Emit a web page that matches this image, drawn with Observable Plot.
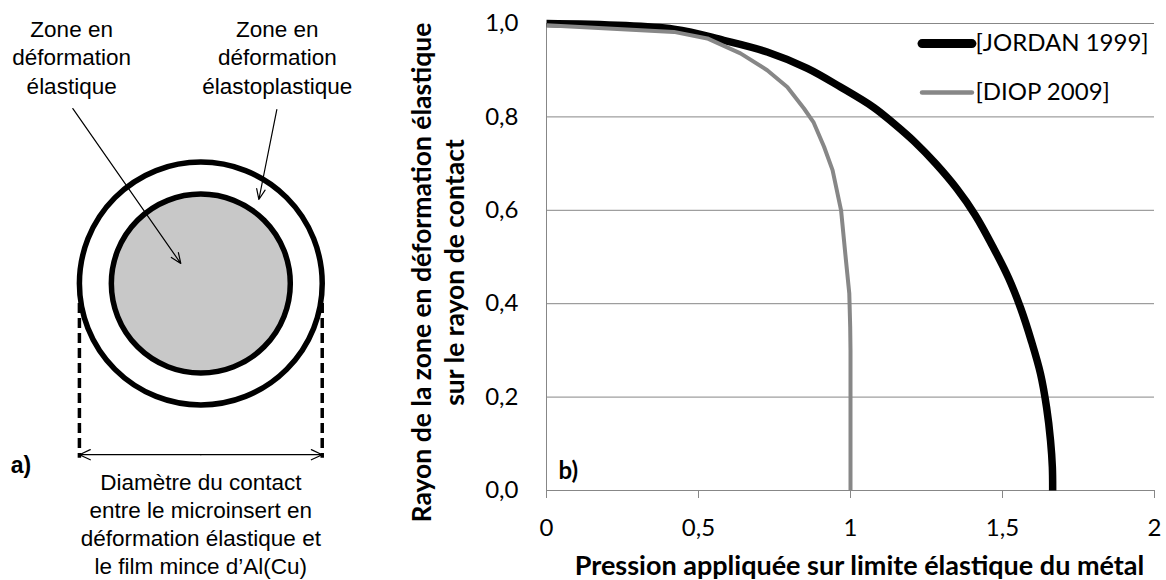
<!DOCTYPE html>
<html><head><meta charset="utf-8">
<script src="https://cdn.jsdelivr.net/npm/d3@7"></script>
<script src="https://cdn.jsdelivr.net/npm/@observablehq/plot@0.6"></script>
<style>
html,body{margin:0;padding:0;background:#fff;}
#wrap{display:flex;width:1166px;height:580px;overflow:hidden;}
#wrap svg{display:block;flex:none;}
</style></head><body><div id="wrap"></div>
<script>
// ---------- panel b) data ----------
const seriesNames = ["[JORDAN 1999]", "[DIOP 2009]"];
const jordanX = [0, 0.419, 0.583, 0.726, 0.858, 0.967, 1.077, 1.142, 1.21, 1.28, 1.35, 1.41, 1.47, 1.52, 1.56, 1.595, 1.625, 1.645, 1.658, 1.664, 1.665];
const jordanY = [1.0, 0.988, 0.964, 0.939, 0.904, 0.864, 0.82, 0.786, 0.747, 0.7, 0.646, 0.59, 0.52, 0.455, 0.39, 0.32, 0.25, 0.178, 0.107, 0.05, 0.0];
const diopX = [0, 0.419, 0.529, 0.638, 0.726, 0.792, 0.847, 0.878, 0.913, 0.941, 0.969, 0.985, 0.996, 0.999, 1.0, 1.0];
const diopY = [0.996, 0.982, 0.968, 0.936, 0.9, 0.864, 0.818, 0.789, 0.736, 0.686, 0.6, 0.493, 0.422, 0.35, 0.3, 0.0];
const xTicks = [0, 0.5, 1, 1.5, 2];
const yTicks = [0, 0.2, 0.4, 0.6, 0.8, 1.0];
const xTitle = "Pression appliquée sur limite élastique du métal";
const yTitleLines = ["Rayon de la zone en déformation élastique", "sur le rayon de contact"];
const panelB = "b)";

// ---------- panel a) schematic (units of outer radius) ----------
const ringNames = ["zone élastoplastique", "zone élastique"];
const ringRadii = [1.0, 0.737];
const topLabels = ["Zone en\ndéformation\nélastique", "Zone en\ndéformation\nélastoplastique"];
const bottomLabel = "Diamètre du contact\nentre le microinsert en\ndéformation élastique et\nle film mince d’Al(Cu)";
const panelA = "a)";

// ---------- styles ----------
const gray = "#878787";
const seriesColors = ["#000000", gray];
const seriesWidths = [7.5, 4];
const fmtX = d => String(d).replace(".", ",");
const fmtY = d => d3.format(".1f")(d).replace(".", ",");

const rows = [
  jordanX.map((x, i) => ({series: seriesNames[0], x, y: jordanY[i]})),
  diopX.map((x, i) => ({series: seriesNames[1], x, y: diopY[i]}))
];

// legend layout (data units of panel b)
const legX1 = 1.237, legX2 = 1.401, legTx = 1.411, legY0 = 0.957, legStep = 0.105;
const legend = seriesNames.map((name, i) => ({name, i, y: legY0 - i * legStep}));

// ---------- panel a plot ----------
const ax0 = -1.65, ax1 = 1.48, ay0 = -2.446, ay1 = 2.331;
const pxPerUnit = 380 / (ax1 - ax0);
const rings = ringNames.map((name, i) => ({name, r: ringRadii[i]}));
const armY = -1.41;

const chartA = Plot.plot({
  width: 380, height: 580, margin: 0,
  x: {domain: [ax0, ax1], axis: null},
  y: {domain: [ay0, ay1], axis: null},
  r: {type: "linear", domain: [0, 1], range: [0, pxPerUnit]},
  style: {fontFamily: "'Liberation Sans', Arial, sans-serif", fontSize: "22px", color: "#000", background: "#fff"},
  marks: [
    Plot.dot([rings[0]], {x: () => 0, y: () => 0, r: "r", fill: "#ffffff", stroke: "#000", strokeWidth: 5.5}),
    Plot.dot([rings[1]], {x: () => 0, y: () => 0, r: "r", fill: "#c8c8c8", stroke: "#000", strokeWidth: 5.5}),
    Plot.ruleX([-ringRadii[0], ringRadii[0]], {x: d => d, y1: -0.165, y2: -1.44, stroke: "#000", strokeWidth: 3.5, strokeDasharray: "10,5"}),
    Plot.arrow([-ringRadii[0], ringRadii[0]], {x1: () => 0, y1: () => armY, x2: d => d, y2: () => armY, stroke: "#000", strokeWidth: 1.2, headLength: 15, headAngle: 50}),
    Plot.arrow([{x1: -1.054, y1: 1.441, x2: -0.165, y2: 0.165}, {x1: 0.626, y1: 1.433, x2: 0.478, y2: 0.692}],
      {x1: "x1", y1: "y1", x2: "x2", y2: "y2", stroke: "#000", strokeWidth: 1.2, headLength: 14, headAngle: 45}),
    Plot.text(topLabels, {x: (d, i) => [-1.064, 0.63][i], y: () => 1.565, text: d => d, lineAnchor: "bottom", lineHeight: 1.25, fontSize: 22.5, fill: "#000"}),
    Plot.text([bottomLabel], {x: () => 0, y: () => -2.39, text: d => d, lineAnchor: "bottom", lineHeight: 1.24, fontSize: 22.5, fill: "#000"}),
    Plot.text([panelA], {x: () => -1.565, y: () => -1.557, text: d => d, textAnchor: "start", lineAnchor: "bottom", fontWeight: "bold", fontSize: 23, fill: "#000"})
  ]
});

// ---------- panel b plot ----------
const chartB = Plot.plot({
  width: 786, height: 580,
  marginLeft: 166, marginRight: 12, marginTop: 23, marginBottom: 90,
  style: {fontFamily: "Lato, sans-serif", fontSize: "24px", color: "#000", background: "#fff"},
  x: {domain: [0, 2]},
  y: {domain: [0, 1]},
  marks: [
    Plot.gridY(yTicks, {stroke: gray, strokeOpacity: 1, strokeWidth: 1}),
    Plot.ruleX([0], {stroke: gray, strokeWidth: 1}),
    Plot.axisX(xTicks, {tickFormat: fmtX, tickSize: 8, tickPadding: 20, stroke: gray, fill: "#000", label: null, fontSize: 24}),
    Plot.axisY(yTicks, {tickFormat: fmtY, tickSize: 0, tickPadding: 28, fill: "#000", label: null, fontSize: 24}),
    Plot.line(rows[0], {x: "x", y: "y", curve: "catmull-rom", stroke: seriesColors[0], strokeWidth: seriesWidths[0], strokeLinejoin: "round", strokeLinecap: "butt"}),
    Plot.line(rows[1], {x: "x", y: "y", stroke: seriesColors[1], strokeWidth: seriesWidths[1], strokeLinejoin: "round", strokeLinecap: "butt"}),
    Plot.ruleY(legend, {y: "y", x1: () => legX1, x2: () => legX2, stroke: d => seriesColors[d.i], strokeWidth: d => seriesWidths[d.i] + (d.i === 0 ? 1.5 : 0.5), strokeLinecap: "round"}),
    Plot.text(legend, {x: () => legTx, y: "y", text: "name", textAnchor: "start", fontSize: 24, fill: "#000"}),
    Plot.text([xTitle], {frameAnchor: "bottom", textAnchor: "middle", dx: 9, dy: 84, lineAnchor: "bottom", text: d => d, fontWeight: "bold", fontSize: 27, fill: "#000"}),
    Plot.text([yTitleLines.join("\n")], {frameAnchor: "left", textAnchor: "middle", rotate: -90, dx: -110, dy: 15.5, lineAnchor: "middle", lineHeight: 1.245, text: d => d, fontWeight: "bold", fontSize: 26.5, fill: "#000"}),
    Plot.text([panelB], {frameAnchor: "bottom-left", dx: 12, dy: -12, lineAnchor: "bottom", textAnchor: "start", text: d => d, fontWeight: "bold", fontSize: 24, fill: "#000"})
  ]
});

const wrap = document.getElementById("wrap");
wrap.appendChild(chartA);
wrap.appendChild(chartB);
</script>
</body></html>
